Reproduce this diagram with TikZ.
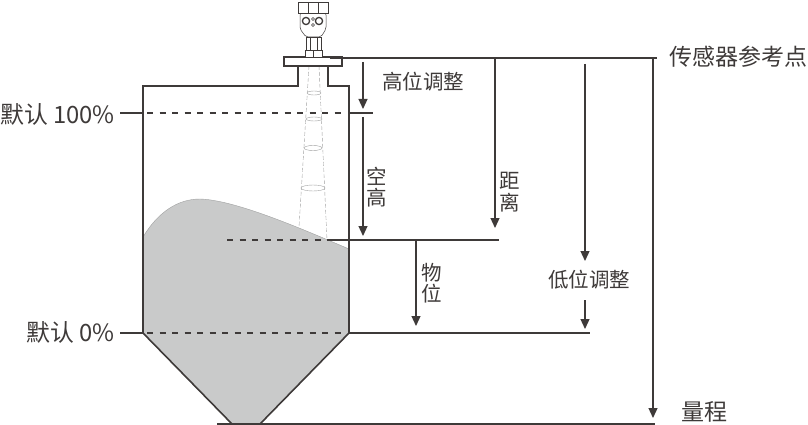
\documentclass[tikz,border=0pt]{standalone}
\usepackage{fontspec}
\setmainfont{Noto Sans CJK SC}
\usepackage{xcolor}
\usetikzlibrary{arrows.meta}
\definecolor{dline}{HTML}{3E3A39}
\definecolor{level}{HTML}{C9CACA}
\definecolor{beam}{HTML}{9FA0A0}
\tikzstyle{lbl}=[inner sep=0pt,text=dline,font=\fontsize{20.5}{21.5}\selectfont,align=center]
\tikzstyle{biglbl}=[lbl,font=\fontsize{23}{24}\selectfont]
\tikzstyle{deflbl}=[lbl,font=\fontsize{23.8}{24}\selectfont]
\tikzstyle{wall}=[line width=1.6pt,draw=dline]
\tikzstyle{ruler}=[line width=1.2pt,draw=dline]
\tikzstyle{implied}=[line width=1.3pt,draw=dline,dash pattern=on 6pt off 6.5pt]
\tikzstyle{rw}=[line width=1.2pt,draw=dline,-{Triangle[length=10pt,width=9pt]}]
\tikzstyle{ray}=[line width=.4pt,draw=beam,dash pattern=on 4pt off 2pt]
\tikzstyle{ring}=[line width=.4pt,draw=beam,fill=white]
\tikzstyle{probe}=[line width=.5pt,draw=dline,fill=white]
\begin{document}
\begin{tikzpicture}[x=1pt,y=-1pt]
	\useasboundingbox (0,0) rectangle (808,425);
	% material in the silo
	\fill[level,draw=beam,line width=.4pt] (143,237) .. controls (158,212) and (178,199) .. (200,199)
		.. controls (235,200) and (300,228) .. (349,249) -- (349,333) -- (260,424) -- (232,424) -- (143,333) -- cycle;
	% radar beam
	\draw[ray] (309,66) -- (299,227);
	\draw[ray] (319,66) -- (327,240);
	\draw[ring] (314,93) ellipse (7pt and 2pt);
	\draw[ring] (314,119) ellipse (8pt and 2pt);
	\draw[ring] (313,148) ellipse (9pt and 2.5pt);
	\draw[ring] (313,188) ellipse (12pt and 3pt);
	% silo
	\draw[wall] (298,66) -- (298,86) -- (143,86) -- (143,333) -- (232,424);
	\draw[wall] (328,66) -- (328,86) -- (349,86) -- (349,333) -- (260,424);
	\draw[wall,fill=white] (284,57) rectangle (342,66);
	% sensor
	\draw[probe] (305,50) rectangle (322,57);
	\draw[probe] (313.5,50) -- (313.5,57);
	\draw[probe] (306,37) rectangle (321,50);
	\draw[probe] (310,37) -- (310,50) (317,37) -- (317,50);
	\draw[probe,rounded corners=2pt] (300,13) -- (300,29) -- (306,37) -- (321,37) -- (326,29) -- (326,13) -- cycle;
	\draw[probe] (298,2) rectangle (328,13);
	\draw[probe] (308,2) -- (308,13) (318,2) -- (318,13);
	\draw[line width=1.3pt,draw=dline] (306,21) circle (3.6pt) (319,21) circle (3.6pt);
	\draw[probe] (313,19) circle (1.5pt) (313,25) circle (1.5pt);
	% labels
	\node[biglbl,anchor=west] (ref) at (669,57) {传感器参考点};
	\node[deflbl,anchor=east] (full) at (115,114) {默认 100\%};
	\node[deflbl,anchor=east] (empty) at (115,332) {默认 0\%};
	\node[biglbl,anchor=west] (range) at (681,412) {量程};
	\node[lbl,anchor=west] (hiadj) at (382,82) {高位调整};
	\node[lbl,anchor=west] (loadj) at (548,280) {低位调整};
	\node[lbl] (air) at (377,187) {空\\高};
	\node[lbl] (dist) at (510,192) {距\\离};
	\node[lbl] (mat) at (432,283) {物\\位};
	% levels
	\coordinate (reftop) at (330,58);
	\coordinate (refend) at (657,58);
	\coordinate (fullL) at (120,113);
	\coordinate (fullW) at (143,113);
	\coordinate (fullD) at (147,113);
	\coordinate (fullE) at (345,113);
	\coordinate (fullR) at (349,113);
	\coordinate (fullS) at (373,113);
	\coordinate (matD) at (227,240);
	\coordinate (matE) at (327,240);
	\coordinate (matS) at (499,240);
	\coordinate (zeroL) at (120,333);
	\coordinate (zeroW) at (143,333);
	\coordinate (zeroD) at (147,333);
	\coordinate (zeroE) at (346,333);
	\coordinate (zeroR) at (349,333);
	\coordinate (zeroS) at (590,333);
	\coordinate (baseL) at (217,424);
	\coordinate (baseR) at (655,424);
	\draw[ruler] (reftop) -- (refend);
	\draw[ruler] (fullL) -- (fullW);
	\draw[ruler] (fullR) -- (fullS);
	\draw[ruler] (matE) -- (matS);
	\draw[ruler] (zeroL) -- (zeroW);
	\draw[ruler] (zeroR) -- (zeroS);
	\draw[ruler,line width=1.6pt] (baseL) -- (baseR);
	\draw[implied] (fullD) -- (fullE);
	\draw[implied] (matD) -- (matE);
	\draw[implied] (zeroD) -- (zeroE);
	% arrows
	\coordinate (a1) at (363,62);
	\coordinate (a2) at (363,109);
	\coordinate (b1) at (363,117);
	\coordinate (b2) at (363,236);
	\coordinate (c1) at (495,58);
	\coordinate (c2) at (495,228);
	\coordinate (d1) at (416,241);
	\coordinate (d2) at (416,326);
	\coordinate (e1) at (585,64);
	\coordinate (e2) at (585,261);
	\coordinate (f1) at (585,300);
	\coordinate (f2) at (585,329);
	\coordinate (g1) at (653,58);
	\coordinate (g2) at (653,418);
	\draw[rw] (a1) -- (a2);
	\draw[rw] (b1) -- (b2);
	\draw[rw] (c1) -- (c2);
	\draw[rw] (d1) -- (d2);
	\draw[rw] (e1) -- (e2);
	\draw[rw] (f1) -- (f2);
	\draw[rw] (g1) -- (g2);
\end{tikzpicture}
\end{document}
